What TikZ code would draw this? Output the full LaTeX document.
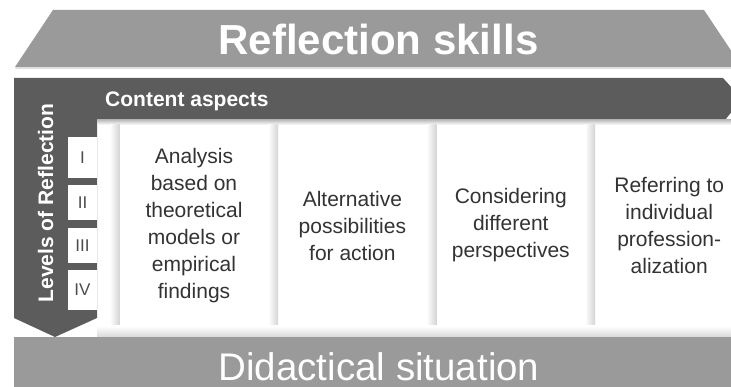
\documentclass[tikz,border=0pt]{standalone}
\usepackage{fontspec}
\setmainfont{Liberation Sans}
\usetikzlibrary{positioning, shadows}

\definecolor{bandgray}{HTML}{9A9A9A}
\definecolor{levelgray}{HTML}{5C5C5C}
\definecolor{cardtext}{HTML}{333333}

\begin{document}
\begin{tikzpicture}[
    x=1pt, y=-1pt,
    heading/.style={text=white, inner sep=0pt, font=\bfseries\fontsize{42}{50}\selectfont},
    basetext/.style={text=white, inner sep=0pt, font=\fontsize{38.5}{46}\selectfont},
    aspects/.style={text=white, inner sep=0pt, font=\bfseries\fontsize{21}{25}\selectfont},
    tab/.style={rectangle, fill=white, minimum width=29pt, inner sep=0pt, text=black!70, font=\fontsize{17}{20}\selectfont},
    card/.style={rectangle, fill=white, minimum width=148pt, minimum height=201pt, inner sep=0pt, align=center, text=cardtext, font=\fontsize{21}{27}\selectfont},
    cardshadow/.style={left color=white, right color=black!17}
]
\clip (0,0) rectangle (731,387);
\fill[white] (0,0) rectangle (731,387);

% Top band
\fill[bandgray, drop shadow={shadow xshift=0pt, shadow yshift=-2pt, opacity=0.25}] (53,10) -- (704,10) -- (742,67) -- (15,67) -- cycle;
\node[heading, anchor=base] (skills) at (378.5,55) {Reflection skills};

% Dark frame: header strip and downward arrow
\fill[levelgray] (14,78) -- (723,78) -- (742,99) -- (725,120) -- (97,120) -- (97,318) -- (55,337) -- (14,318) -- cycle;
\shade[top color=black!25, bottom color=white] (97,120) rectangle (731,125);
\node[aspects, anchor=base west] (content) at (105,107) {Content aspects};
\node[aspects, rotate=90, anchor=base] (levels) at (53,203) {Levels of Reflection};

% Level tabs
\node[tab, minimum height=41pt] (tab1) at (82.5,157.5) {I};
\node[tab, minimum height=35pt] (tab2) at (82.5,202.5) {II};
\node[tab, minimum height=35pt] (tab3) at (82.5,245.5) {III};
\node[tab, minimum height=40pt] (tab4) at (82.5,290) {IV};

% Content cards
\node[card] (analysis) at (194,225.5) {Analysis\\based on\\theoretical\\models or\\empirical\\findings};
\node[card, right=10pt of analysis] (alternatives) {Alternative\\possibilities\\for action};
\node[card, right=10pt of alternatives] (perspectives) {Considering\\different\\perspectives};
\node[card, right=10pt of perspectives] (individual) {Referring to\\individual\\profession-\\alization};

% soft shadows left of the cards
\shade[cardshadow] ([xshift=-10pt]analysis.south west) rectangle (analysis.north west);
\shade[cardshadow] ([xshift=-10pt]alternatives.south west) rectangle (alternatives.north west);
\shade[cardshadow] ([xshift=-10pt]perspectives.south west) rectangle (perspectives.north west);
\shade[cardshadow] ([xshift=-10pt]individual.south west) rectangle (individual.north west);

% Bottom band
\shade[top color=white, bottom color=black!15] (97,326) rectangle (731,337);
\fill[bandgray] (14,337) rectangle (742,390);
\node[basetext, anchor=base] (situation) at (379,380) {Didactical situation};

\end{tikzpicture}
\end{document}
